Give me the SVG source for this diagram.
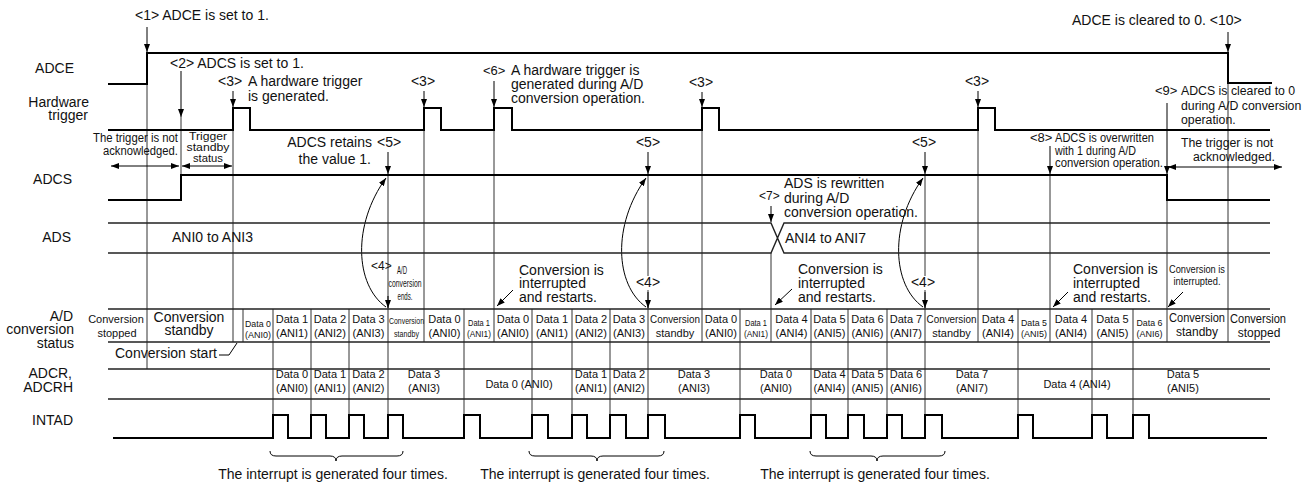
<svg xmlns="http://www.w3.org/2000/svg" width="1315" height="484" viewBox="0 0 1315 484">
<style>
text{font-family:"Liberation Sans",Arial,Helvetica,sans-serif;fill:#111}
.f14{font-size:14px}.f13{font-size:13px}.f12{font-size:12px}.f11{font-size:11px}.f9{font-size:9px}.f8{font-size:8px}
.m{text-anchor:middle}.e{text-anchor:end}
.sig{fill:none;stroke:#000;stroke-width:2}
.row{fill:none;stroke:#222;stroke-width:1.4}
.v{fill:none;stroke:#333;stroke-width:1}
.arr{fill:none;stroke:#000;stroke-width:1;marker-end:url(#ah)}
.darr{fill:none;stroke:#000;stroke-width:1;marker-end:url(#ah);marker-start:url(#ah)}
.ln{fill:none;stroke:#000;stroke-width:1}
</style>
<defs>
<marker id="ah" viewBox="0 0 8 6" refX="8" refY="3" markerWidth="8" markerHeight="6" markerUnits="userSpaceOnUse" orient="auto-start-reverse"><path d="M0,0 L8,3 L0,6 z" fill="#000"/></marker>
</defs>
<rect width="1315" height="484" fill="#fff"/>

<g id="row-labels">
<text class="f14 e" x="74" y="73">ADCE</text>
<text class="f14 e" x="89" y="107">Hardware</text>
<text class="f14 e" x="88" y="120">trigger</text>
<text class="f14 e" x="72" y="184">ADCS</text>
<text class="f14 e" x="71" y="242">ADS</text>
<text class="f14 e" x="73" y="321">A/D</text>
<text class="f14 e" x="74" y="334">conversion</text>
<text class="f14 e" x="74" y="348">status</text>
<text class="f14 e" x="72" y="378">ADCR,</text>
<text class="f14 e" x="73" y="392">ADCRH</text>
<text class="f14 e" x="73" y="425">INTAD</text>
</g>

<g id="connectors">
<path class="v" d="M147,84V369 M181,117V200 M233,130V342 M243,309V342 M273,309V415 M311,309V415 M349,309V415 M388,175V415 M424,130V342 M464,309V415 M494,130V342 M532,309V415 M572,309V415 M610,309V415 M648,175V276 M648,290V415 M702,130V342 M740,309V415 M771,253V342 M811,309V415 M848,309V415 M887,309V415 M925,175V276 M925,290V415 M978,130V342 M1018,309V415 M1050,175V342 M1092,309V415 M1133,309V415 M1167,200V342 M1228,83V342"/>
<path class="arr" d="M147,27V52"/>
<path class="arr" d="M181,71V117"/>
<path class="arr" d="M233,91V107"/>
<path class="arr" d="M424,91V107"/>
<path class="arr" d="M494,81V107"/>
<path class="arr" d="M702,92V107"/>
<path class="arr" d="M978,91V107"/>
<path class="arr" d="M1228,32V52"/>
<path class="arr" d="M388,152V174"/>
<path class="arr" d="M648,152V174"/>
<path class="arr" d="M925,152V174"/>
<path class="arr" d="M1050,146V174"/>
<path class="arr" d="M1167,103V174"/>
<path class="arr" d="M771,206V222"/>
<path class="arr" d="M388,296V308"/>
<path class="arr" d="M648,292V308"/>
<path class="arr" d="M925,292V308"/>
<path class="darr" d="M111,166H179"/>
<path class="darr" d="M182,166H232"/>
<path class="darr" d="M1168,167H1282"/>
<path class="arr" d="M513,290L497,306"/>
<path class="arr" d="M792,289L775,305"/>
<path class="arr" d="M1068,292L1053,307"/>
<path class="arr" d="M1183,292L1168,307"/>
<path class="arr" d="M386,307C355,285 352,225 386,178"/>
<path class="arr" d="M646,307C615,285 612,225 646,178"/>
<path class="arr" d="M923,307C892,285 889,225 923,178"/>
<path class="ln" d="M219,355H229L237,343"/>
<path class="ln" d="M270,451Q270,456 276,456H330Q336,456 336,461Q336,456 342,456H397Q403,456 403,451"/>
<path class="ln" d="M529,451Q529,456 535,456H591Q597,456 597,461Q597,456 603,456H658Q664,456 664,451"/>
<path class="ln" d="M810,451Q810,456 816,456H871Q877,456 877,461Q877,456 883,456H939Q945,456 945,451"/>
</g>

<g id="sig-adce"><path class="sig" d="M108,84H147V53H1228V83H1272"/></g>
<g id="sig-trigger"><path class="sig" d="M108,130H233V108H250V130H424V108H441V130H494V108H512V130H702V108H719V130H978V108H995V130H1270"/></g>
<g id="sig-adcs"><path class="sig" d="M108,200H181V175H1167V200H1270"/></g>
<g id="sig-ads">
<path class="row" d="M108,223H771L784,253H1270 M108,253H771L784,223H1270"/>
<text class="f14" x="172" y="242">ANI0 to ANI3</text>
<text class="f14" x="785" y="243">ANI4 to ANI7</text>
</g>
<g id="sig-intad"><path class="sig" d="M113,438H273V415H288V438H311V415H326V438H349V415H364V438H388V415H403V438H464V415H480V438H532V415H548V438H572V415H587V438H610V415H626V438H648V415H665V438H740V415H755V438H811V415H826V438H848V415H864V438H887V415H902V438H925V415H942V438H1018V415H1033V438H1092V415H1107V438H1133V415H1149V438H1267"/></g>

<g id="status-row">
<path class="row" d="M108,309H1270 M108,342H1270 M108,369H1270 M108,399H1270"/>
<text class="f11 m" x="116" y="323">Conversion</text><text class="f11 m" x="117" y="337">stopped</text>
<text class="f14 m" x="189" y="322">Conversion</text><text class="f14 m" x="189" y="335">standby</text>
<text class="f9 m" x="258" y="327" textLength="26" lengthAdjust="spacingAndGlyphs">Data 0</text><text class="f9 m" x="258" y="338" textLength="26" lengthAdjust="spacingAndGlyphs">(ANI0)</text>
<text class="f11 m" x="292" y="323">Data 1</text><text class="f11 m" x="292" y="337">(ANI1)</text>
<text class="f11 m" x="330" y="323">Data 2</text><text class="f11 m" x="330" y="337">(ANI2)</text>
<text class="f11 m" x="368.5" y="323">Data 3</text><text class="f11 m" x="368.5" y="337">(ANI3)</text>
<text class="f9 m" x="406.5" y="324" textLength="35" lengthAdjust="spacingAndGlyphs">Conversion</text><text class="f9 m" x="406.5" y="337" textLength="25" lengthAdjust="spacingAndGlyphs">standby</text>
<text class="f11 m" x="444.5" y="323">Data 0</text><text class="f11 m" x="444.5" y="337">(ANI0)</text>
<text class="f9 m" x="479" y="326" textLength="22" lengthAdjust="spacingAndGlyphs">Data 1</text><text class="f9 m" x="479" y="337" textLength="24" lengthAdjust="spacingAndGlyphs">(ANI1)</text>
<text class="f11 m" x="513" y="323">Data 0</text><text class="f11 m" x="513" y="337">(ANI0)</text>
<text class="f11 m" x="552" y="323">Data 1</text><text class="f11 m" x="552" y="337">(ANI1)</text>
<text class="f11 m" x="591" y="323">Data 2</text><text class="f11 m" x="591" y="337">(ANI2)</text>
<text class="f11 m" x="629" y="323">Data 3</text><text class="f11 m" x="629" y="337">(ANI3)</text>
<text class="f11 m" x="675" y="323" textLength="50" lengthAdjust="spacingAndGlyphs">Conversion</text><text class="f11 m" x="675" y="337">standby</text>
<text class="f11 m" x="721" y="323">Data 0</text><text class="f11 m" x="721" y="337">(ANI0)</text>
<text class="f9 m" x="756" y="326" textLength="22" lengthAdjust="spacingAndGlyphs">Data 1</text><text class="f9 m" x="756" y="337" textLength="24" lengthAdjust="spacingAndGlyphs">(ANI1)</text>
<text class="f11 m" x="791.5" y="323">Data 4</text><text class="f11 m" x="791.5" y="337">(ANI4)</text>
<text class="f11 m" x="829.5" y="323">Data 5</text><text class="f11 m" x="829.5" y="337">(ANI5)</text>
<text class="f11 m" x="867.5" y="323">Data 6</text><text class="f11 m" x="867.5" y="337">(ANI6)</text>
<text class="f11 m" x="906" y="323">Data 7</text><text class="f11 m" x="906" y="337">(ANI7)</text>
<text class="f11 m" x="951.5" y="323" textLength="50" lengthAdjust="spacingAndGlyphs">Conversion</text><text class="f11 m" x="951.5" y="337">standby</text>
<text class="f11 m" x="998" y="323">Data 4</text><text class="f11 m" x="998" y="337">(ANI4)</text>
<text class="f9 m" x="1034" y="326" textLength="26" lengthAdjust="spacingAndGlyphs">Data 5</text><text class="f9 m" x="1034" y="337" textLength="26" lengthAdjust="spacingAndGlyphs">(ANI5)</text>
<text class="f11 m" x="1071" y="323">Data 4</text><text class="f11 m" x="1071" y="337">(ANI4)</text>
<text class="f11 m" x="1112.5" y="323">Data 5</text><text class="f11 m" x="1112.5" y="337">(ANI5)</text>
<text class="f9 m" x="1149.5" y="326" textLength="26" lengthAdjust="spacingAndGlyphs">Data 6</text><text class="f9 m" x="1149.5" y="337" textLength="26" lengthAdjust="spacingAndGlyphs">(ANI6)</text>
<text class="f12 m" x="1197" y="322" textLength="56" lengthAdjust="spacingAndGlyphs">Conversion</text><text class="f12 m" x="1197" y="336">standby</text>
<text class="f12 m" x="1258" y="323" textLength="56" lengthAdjust="spacingAndGlyphs">Conversion</text><text class="f12 m" x="1259" y="337">stopped</text>
<text class="f14" x="115" y="358">Conversion start</text>
</g>

<g id="adcr-row">
<text class="f11 m" x="292" y="378">Data 0</text><text class="f11 m" x="292" y="392">(ANI0)</text>
<text class="f11 m" x="330" y="378">Data 1</text><text class="f11 m" x="330" y="392">(ANI1)</text>
<text class="f11 m" x="368.5" y="378">Data 2</text><text class="f11 m" x="368.5" y="392">(ANI2)</text>
<text class="f11 m" x="424" y="378">Data 3</text><text class="f11 m" x="424" y="392">(ANI3)</text>
<text class="f11 m" x="519" y="388">Data 0 (ANI0)</text>
<text class="f11 m" x="591" y="378">Data 1</text><text class="f11 m" x="591" y="392">(ANI1)</text>
<text class="f11 m" x="629" y="378">Data 2</text><text class="f11 m" x="629" y="392">(ANI2)</text>
<text class="f11 m" x="694" y="378">Data 3</text><text class="f11 m" x="694" y="392">(ANI3)</text>
<text class="f11 m" x="776" y="378">Data 0</text><text class="f11 m" x="776" y="392">(ANI0)</text>
<text class="f11 m" x="829.5" y="378">Data 4</text><text class="f11 m" x="829.5" y="392">(ANI4)</text>
<text class="f11 m" x="867.5" y="378">Data 5</text><text class="f11 m" x="867.5" y="392">(ANI5)</text>
<text class="f11 m" x="906" y="378">Data 6</text><text class="f11 m" x="906" y="392">(ANI6)</text>
<text class="f11 m" x="972" y="378">Data 7</text><text class="f11 m" x="972" y="392">(ANI7)</text>
<text class="f11 m" x="1077" y="388">Data 4 (ANI4)</text>
<text class="f11 m" x="1183" y="378">Data 5</text><text class="f11 m" x="1183" y="392">(ANI5)</text>
</g>

<g id="annotations">
<text class="f14" x="135" y="20">&lt;1&gt; ADCE is set to 1.</text>
<text class="f14" x="170" y="68">&lt;2&gt; ADCS is set to 1.</text>
<text class="f14" x="218" y="86">&lt;3&gt;</text>
<text class="f14" x="248" y="86">A hardware trigger</text>
<text class="f14" x="248" y="101">is generated.</text>
<text class="f14 m" x="423" y="86">&lt;3&gt;</text>
<text class="f13" x="483" y="75">&lt;6&gt;</text>
<text class="f14" x="511" y="75">A hardware trigger is</text>
<text class="f14" x="511" y="89">generated during A/D</text>
<text class="f14" x="511" y="103">conversion operation.</text>
<text class="f14 m" x="701" y="87">&lt;3&gt;</text>
<text class="f14 m" x="977" y="86">&lt;3&gt;</text>
<text class="f14" x="1072" y="25">ADCE is cleared to 0. &lt;10&gt;</text>
<text class="f12 e" x="178" y="142" textLength="85" lengthAdjust="spacingAndGlyphs">The trigger is not</text>
<text class="f12 e" x="178" y="155" textLength="75" lengthAdjust="spacingAndGlyphs">acknowledged.</text>
<text class="f11 m" x="208" y="140" textLength="38" lengthAdjust="spacingAndGlyphs">Trigger</text>
<text class="f11 m" x="208" y="151" textLength="43" lengthAdjust="spacingAndGlyphs">standby</text>
<text class="f11 m" x="208" y="162" textLength="30" lengthAdjust="spacingAndGlyphs">status</text>
<text class="f14 e" x="372" y="147">ADCS retains</text>
<text class="f14 e" x="371" y="164">the value 1.</text>
<text class="f14" x="377" y="147">&lt;5&gt;</text>
<text class="f14 m" x="648" y="147">&lt;5&gt;</text>
<text class="f14 m" x="924" y="147">&lt;5&gt;</text>
<text class="f12" x="759" y="200">&lt;7&gt;</text>
<text class="f14" x="784" y="188">ADS is rewritten</text>
<text class="f14" x="784" y="203">during A/D</text>
<text class="f14" x="784" y="217">conversion operation.</text>
<text class="f13" x="1030" y="142">&lt;8&gt;</text>
<text class="f12" x="1055" y="142" textLength="99" lengthAdjust="spacingAndGlyphs">ADCS is overwritten</text>
<text class="f12" x="1055" y="155" textLength="81" lengthAdjust="spacingAndGlyphs">with 1 during A/D</text>
<text class="f12" x="1055" y="167" textLength="108" lengthAdjust="spacingAndGlyphs">conversion operation.</text>
<text class="f13" x="1155" y="95">&lt;9&gt;</text>
<text x="1181" y="95" style="font-size:12.3px">ADCS is cleared to 0</text>
<text x="1181" y="110" style="font-size:12.3px">during A/D conversion</text>
<text x="1181" y="124" style="font-size:12.3px">operation.</text>
<text x="1181" y="147" style="font-size:12.3px">The trigger is not</text>
<text x="1275" y="161" style="font-size:12.3px;text-anchor:end">acknowledged.</text>
<text class="f12" x="371" y="270">&lt;4&gt;</text>
<text class="f11 m" x="402" y="274" textLength="10" lengthAdjust="spacingAndGlyphs">A/D</text>
<text class="f11 m" x="405" y="287" textLength="33" lengthAdjust="spacingAndGlyphs">conversion</text>
<text class="f11 m" x="405" y="300" textLength="15" lengthAdjust="spacingAndGlyphs">ends.</text>
<text class="f14 m" x="648" y="287">&lt;4&gt;</text>
<text class="f14 m" x="923" y="287">&lt;4&gt;</text>
<text class="f14" x="519" y="275">Conversion is</text>
<text class="f14" x="519" y="288">interrupted</text>
<text class="f14" x="519" y="302">and restarts.</text>
<text class="f14" x="798" y="274">Conversion is</text>
<text class="f14" x="798" y="288">interrupted</text>
<text class="f14" x="798" y="302">and restarts.</text>
<text class="f14" x="1073" y="274">Conversion is</text>
<text class="f14" x="1073" y="288">interrupted</text>
<text class="f14" x="1073" y="302">and restarts.</text>
<text class="m" x="1197" y="273" style="font-size:10.5px" textLength="56" lengthAdjust="spacingAndGlyphs">Conversion is</text>
<text class="m" x="1197" y="285" style="font-size:10.5px" textLength="47" lengthAdjust="spacingAndGlyphs">interrupted.</text>
<text class="f14 m" x="333" y="479">The interrupt is generated four times.</text>
<text class="f14 m" x="595" y="479">The interrupt is generated four times.</text>
<text class="f14 m" x="875" y="479">The interrupt is generated four times.</text>
</g>
</svg>
